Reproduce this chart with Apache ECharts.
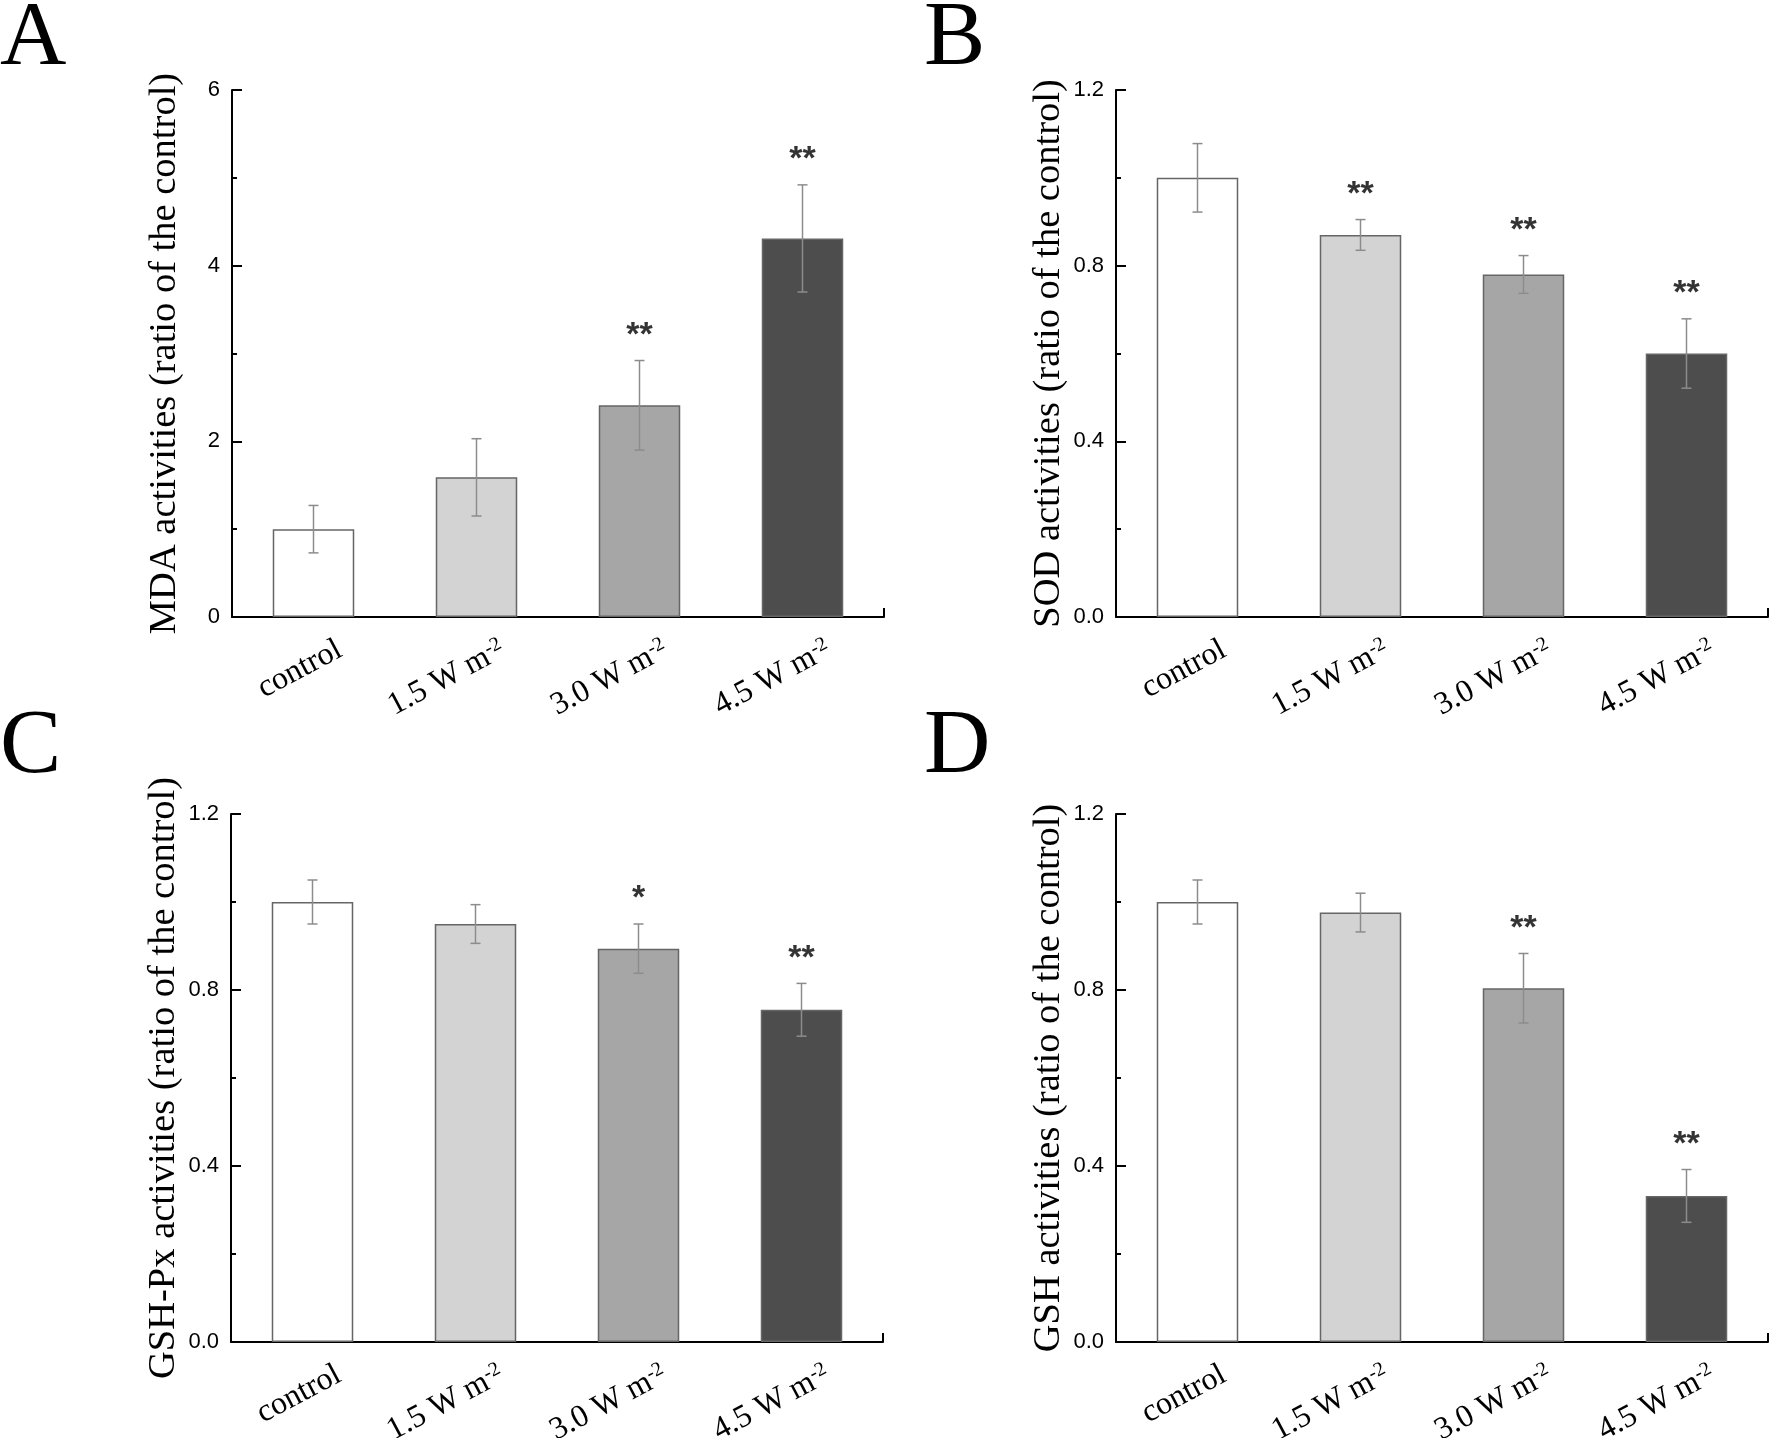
<!DOCTYPE html>
<html>
<head>
<meta charset="utf-8">
<script src="https://cdn.jsdelivr.net/npm/echarts@6/dist/echarts.min.js"></script>
<style>
html, body { margin: 0; padding: 0; background: #fff; }
#main { width: 1772px; height: 1438px; }
</style>
</head>
<body>
<div id="main"></div>
<script>
// categories and values
var categories = ['control', '1.5 W m-2', '3.0 W m-2', '4.5 W m-2'];

var mdaMean = [1.00, 1.59, 2.41, 4.31];
var mdaErr = [0.27, 0.44, 0.51, 0.61];
var mdaSig = ['', '', '**', '**'];

var sodMean = [1.00, 0.87, 0.78, 0.60];
var sodErr = [0.078, 0.035, 0.043, 0.079];
var sodSig = ['', '**', '**', '**'];

var gpxMean = [1.00, 0.95, 0.894, 0.755];
var gpxErr = [0.05, 0.044, 0.056, 0.06];
var gpxSig = ['', '', '*', '**'];

var gshMean = [1.00, 0.976, 0.804, 0.332];
var gshErr = [0.05, 0.044, 0.079, 0.06];
var gshSig = ['', '', '**', '**'];

var mdaTicks = [0, 6, 2];
var ratioTicks = [0, 1.2, 0.4];

var barColors = ['#ffffff', '#d3d3d3', '#a6a6a6', '#4d4d4d'];
var serif = 'Liberation Serif, Times New Roman, serif';
var sans = 'Liberation Sans, Arial, sans-serif';

var myChart = echarts.init(document.getElementById('main'));

var panels = [
	{ letter: 'A', name: 'MDA activities (ratio of the control)', mean: mdaMean, err: mdaErr, sig: mdaSig, ticks: mdaTicks, digits: 0,
		grid: { left: 232, top: 90, width: 652, height: 527 }, lx: 0, ly: -6 },
	{ letter: 'B', name: 'SOD activities (ratio of the control)', mean: sodMean, err: sodErr, sig: sodSig, ticks: ratioTicks, digits: 1,
		grid: { left: 1116, top: 90, width: 652, height: 527 }, lx: 924, ly: -6 },
	{ letter: 'C', name: 'GSH-Px activities (ratio of the control)', mean: gpxMean, err: gpxErr, sig: gpxSig, ticks: ratioTicks, digits: 1,
		grid: { left: 231, top: 814, width: 652, height: 528 }, lx: 0, ly: 702 },
	{ letter: 'D', name: 'GSH activities (ratio of the control)', mean: gshMean, err: gshErr, sig: gshSig, ticks: ratioTicks, digits: 1,
		grid: { left: 1116, top: 814, width: 652, height: 528 }, lx: 924, ly: 702 }
];

var option = {
	animation: false,
	backgroundColor: '#fff',
	title: [],
	grid: [],
	xAxis: [],
	yAxis: [],
	series: []
};

function catLabel(value) {
	if (value.slice(-2) === '-2') {
		return '{n|' + value.slice(0, -2) + '}{s|-2}';
	}
	return '{n|' + value + '}';
}

panels.forEach(function(p, i) {
	option.title.push({
		text: p.letter,
		left: p.lx,
		top: p.ly,
		padding: 0,
		textStyle: {
			fontFamily: serif,
			fontSize: 92,
			fontWeight: 'normal',
			color: '#000'
		}
	});
	p.grid.outerBoundsMode = 'none';
	p.grid.containLabel = false;
	option.grid.push(p.grid);

	// category axis
	option.xAxis.push({
		type: 'category',
		gridIndex: i,
		data: categories,
		axisLine: { lineStyle: { color: '#000', width: 2 } },
		axisTick: { show: false },
		axisLabel: {
			interval: 0,
			rotate: 28,
			margin: 45,
			padding: [0, -30, 0, 0],
			color: '#000',
			formatter: catLabel,
			rich: {
				n: { fontFamily: serif, fontSize: 32, color: '#000' },
				s: { fontFamily: serif, fontSize: 20, color: '#000', verticalAlign: 'top' }
			}
		}
	});
	// small tick at the right end of the x axis
	option.xAxis.push({
		type: 'value',
		gridIndex: i,
		min: 0,
		max: 1,
		interval: 1,
		position: 'bottom',
		axisLine: { show: false },
		axisTick: { show: true, inside: true, length: 9, lineStyle: { color: '#000', width: 2 } },
		axisLabel: { show: false },
		splitLine: { show: false }
	});

	option.yAxis.push({
		type: 'value',
		gridIndex: i,
		min: p.ticks[0],
		max: p.ticks[1],
		interval: p.ticks[2],
		name: p.name,
		nameLocation: 'middle',
		nameGap: 48,
		nameTextStyle: { fontFamily: serif, fontSize: 38.5, color: '#000' },
		axisLine: { show: true, lineStyle: { color: '#000', width: 2 } },
		axisTick: { show: true, inside: true, length: 10, lineStyle: { color: '#000', width: 2 } },
		minorTick: { show: true, splitNumber: 2, length: 5, lineStyle: { color: '#000', width: 2 } },
		splitLine: { show: false },
		axisLabel: {
			margin: 12,
			color: '#000',
			fontFamily: sans,
			fontSize: 22,
			formatter: function(v) { return v.toFixed(p.digits); }
		}
	});

	var xi = i * 2;
	option.series.push({
		type: 'bar',
		xAxisIndex: xi,
		yAxisIndex: i,
		barWidth: '50%',
		data: p.mean,
		itemStyle: {
			color: function(d) { return barColors[d.dataIndex]; },
			borderColor: '#666',
			borderWidth: 1.5
		},
		silent: true
	});

	var errData = p.mean.map(function(m, k) {
		return [k, m - p.err[k], m + p.err[k]];
	});
	option.series.push({
		type: 'custom',
		xAxisIndex: xi,
		yAxisIndex: i,
		data: errData,
		encode: { x: 0, y: [1, 2] },
		silent: true,
		z: 5,
		renderItem: function(params, api) {
			var lo = api.coord([api.value(0), api.value(1)]);
			var hi = api.coord([api.value(0), api.value(2)]);
			var w = 5;
			var st = { stroke: '#8c8c8c', lineWidth: 1.5 };
			return {
				type: 'group',
				children: [
					{ type: 'line', shape: { x1: hi[0], y1: hi[1], x2: lo[0], y2: lo[1] }, style: st },
					{ type: 'line', shape: { x1: hi[0] - w, y1: hi[1], x2: hi[0] + w, y2: hi[1] }, style: st },
					{ type: 'line', shape: { x1: lo[0] - w, y1: lo[1], x2: lo[0] + w, y2: lo[1] }, style: st }
				]
			};
		}
	});

	var sigData = p.mean.map(function(m, k) {
		return [k, m + p.err[k]];
	});
	option.series.push({
		type: 'scatter',
		xAxisIndex: xi,
		yAxisIndex: i,
		data: sigData,
		symbolSize: 0,
		silent: true,
		label: {
			show: true,
			position: 'top',
			distance: 8,
			color: '#000',
			fontFamily: sans,
			fontSize: 34,
			fontWeight: 'bold',
			formatter: function(d) { return p.sig[d.dataIndex]; }
		}
	});
});

myChart.setOption(option);
</script>
</body>
</html>
